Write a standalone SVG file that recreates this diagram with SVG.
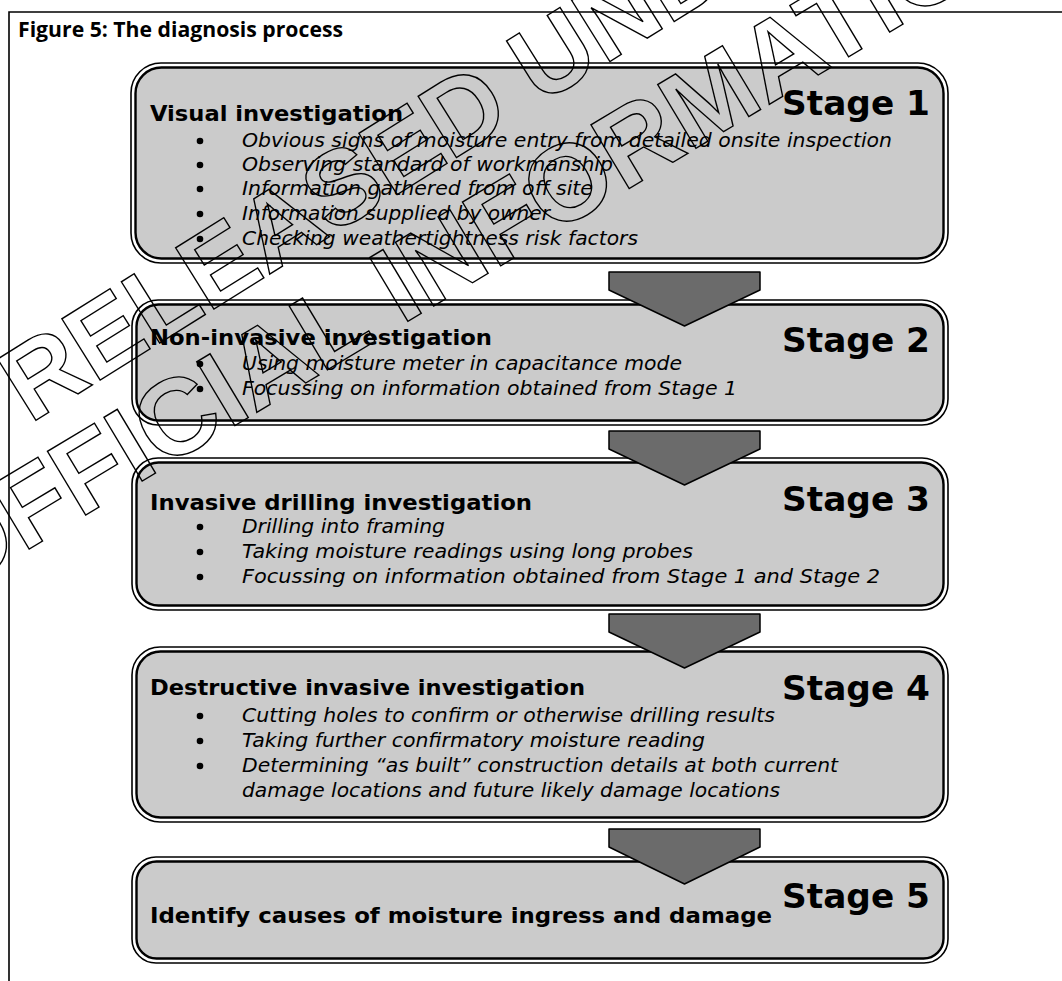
<svg xmlns="http://www.w3.org/2000/svg" width="1062" height="981" viewBox="0 0 1062 981">
<style>
.frame{fill:none;stroke:#000;stroke-width:1.6}
.outer{fill:#fff;stroke:#000;stroke-width:1.6}
.inner{fill:#cbcbcb;stroke:#000;stroke-width:2.4}
.arrow{fill:#6b6b6b;stroke:#000;stroke-width:1.5;stroke-linejoin:round}
text{font-family:"DejaVu Sans","Liberation Sans",sans-serif;fill:#000}
.title{font-family:"Open Sans","Liberation Sans",sans-serif;font-weight:bold;font-size:21px}
.head{font-weight:bold;font-size:22px}
.stage{font-weight:bold;font-size:33px;text-anchor:end}
.item{font-style:italic;font-size:19px}
.dot{fill:#000}
.wm{font-family:"Liberation Sans",Arial,sans-serif;font-weight:bold;fill:none;stroke:#000;stroke-width:1.4}
</style>
<rect width="1062" height="981" fill="#fff"/>
<g id="frame">
<path class="frame" d="M9 981V12H1062"/>
<text class="title" x="18" y="37" textLength="325" lengthAdjust="spacingAndGlyphs">Figure 5: The diagnosis process</text>
</g>
<g id="stage1">
<rect class="outer" x="131" y="63" width="817" height="200" rx="30"/>
<rect class="inner" x="135.5" y="67.5" width="808" height="191" rx="26"/>
<text class="head" x="150" y="121" textLength="253" lengthAdjust="spacingAndGlyphs">Visual investigation</text>
<text class="stage" x="930" y="115" textLength="148" lengthAdjust="spacingAndGlyphs">Stage 1</text>
<circle class="dot" cx="200" cy="141" r="3.3"/>
<circle class="dot" cx="200" cy="165" r="3.3"/>
<circle class="dot" cx="200" cy="189" r="3.3"/>
<circle class="dot" cx="200" cy="214" r="3.3"/>
<circle class="dot" cx="200" cy="239" r="3.3"/>
<text class="item" x="242" y="147" textLength="650" lengthAdjust="spacingAndGlyphs">Obvious signs of moisture entry from detailed onsite inspection</text>
<text class="item" x="242" y="171" textLength="371" lengthAdjust="spacingAndGlyphs">Observing standard of workmanship</text>
<text class="item" x="242" y="195" textLength="351" lengthAdjust="spacingAndGlyphs">Information gathered from off site</text>
<text class="item" x="242" y="220" textLength="308" lengthAdjust="spacingAndGlyphs">Information supplied by owner</text>
<text class="item" x="242" y="245" textLength="396" lengthAdjust="spacingAndGlyphs">Checking weathertightness risk factors</text>
</g>
<g id="stage2">
<rect class="outer" x="132" y="300" width="816" height="125" rx="26"/>
<rect class="inner" x="136.5" y="304.5" width="807" height="116" rx="22"/>
<text class="head" x="150" y="345" textLength="342" lengthAdjust="spacingAndGlyphs">Non-invasive investigation</text>
<text class="stage" x="930" y="352" textLength="148" lengthAdjust="spacingAndGlyphs">Stage 2</text>
<circle class="dot" cx="200" cy="364" r="3.3"/>
<circle class="dot" cx="200" cy="389" r="3.3"/>
<text class="item" x="242" y="370" textLength="440" lengthAdjust="spacingAndGlyphs">Using moisture meter in capacitance mode</text>
<text class="item" x="242" y="395" textLength="495" lengthAdjust="spacingAndGlyphs">Focussing on information obtained from Stage 1</text>
</g>
<g id="stage3">
<rect class="outer" x="132" y="458" width="816" height="152" rx="26"/>
<rect class="inner" x="136.5" y="462.5" width="807" height="143" rx="22"/>
<text class="head" x="150" y="510" textLength="382" lengthAdjust="spacingAndGlyphs">Invasive drilling investigation</text>
<text class="stage" x="930" y="511" textLength="148" lengthAdjust="spacingAndGlyphs">Stage 3</text>
<circle class="dot" cx="200" cy="527" r="3.3"/>
<circle class="dot" cx="200" cy="552" r="3.3"/>
<circle class="dot" cx="200" cy="577" r="3.3"/>
<text class="item" x="242" y="533" textLength="203" lengthAdjust="spacingAndGlyphs">Drilling into framing</text>
<text class="item" x="242" y="558" textLength="451" lengthAdjust="spacingAndGlyphs">Taking moisture readings using long probes</text>
<text class="item" x="242" y="583" textLength="638" lengthAdjust="spacingAndGlyphs">Focussing on information obtained from Stage 1 and Stage 2</text>
</g>
<g id="stage4">
<rect class="outer" x="132" y="647" width="816" height="175" rx="28"/>
<rect class="inner" x="136.5" y="651.5" width="807" height="166" rx="24"/>
<text class="head" x="150" y="695" textLength="435" lengthAdjust="spacingAndGlyphs">Destructive invasive investigation</text>
<text class="stage" x="930" y="700" textLength="148" lengthAdjust="spacingAndGlyphs">Stage 4</text>
<circle class="dot" cx="200" cy="716" r="3.3"/>
<circle class="dot" cx="200" cy="741" r="3.3"/>
<circle class="dot" cx="200" cy="766" r="3.3"/>
<text class="item" x="242" y="722" textLength="533" lengthAdjust="spacingAndGlyphs">Cutting holes to confirm or otherwise drilling results</text>
<text class="item" x="242" y="747" textLength="463" lengthAdjust="spacingAndGlyphs">Taking further confirmatory moisture reading</text>
<text class="item" x="242" y="772" textLength="596" lengthAdjust="spacingAndGlyphs">Determining “as built” construction details at both current</text>
<text class="item" x="242" y="797" textLength="538" lengthAdjust="spacingAndGlyphs">damage locations and future likely damage locations</text>
</g>
<g id="stage5">
<rect class="outer" x="132" y="857" width="816" height="106" rx="24"/>
<rect class="inner" x="136.5" y="861.5" width="807" height="97" rx="20"/>
<text class="head" x="150" y="923" textLength="622" lengthAdjust="spacingAndGlyphs">Identify causes of moisture ingress and damage</text>
<text class="stage" x="930" y="908" textLength="148" lengthAdjust="spacingAndGlyphs">Stage 5</text>
</g>
<g id="connectors">
<path class="arrow" d="M609 272H760V290L684.5 326L609 290Z"/>
<path class="arrow" d="M609 431H760V449L684.5 485L609 449Z"/>
<path class="arrow" d="M609 614H760V632L684.5 668L609 632Z"/>
<path class="arrow" d="M609 829H760V847L684.5 884L609 847Z"/>
</g>
<g id="watermark">
<text class="wm" font-size="105" transform="translate(30 424) rotate(-32)">RELEASED UNDER</text>
<text class="wm" font-size="108" transform="translate(-49 596) rotate(-31)">OFFICIAL INFORMATION</text>
</g>
</svg>
